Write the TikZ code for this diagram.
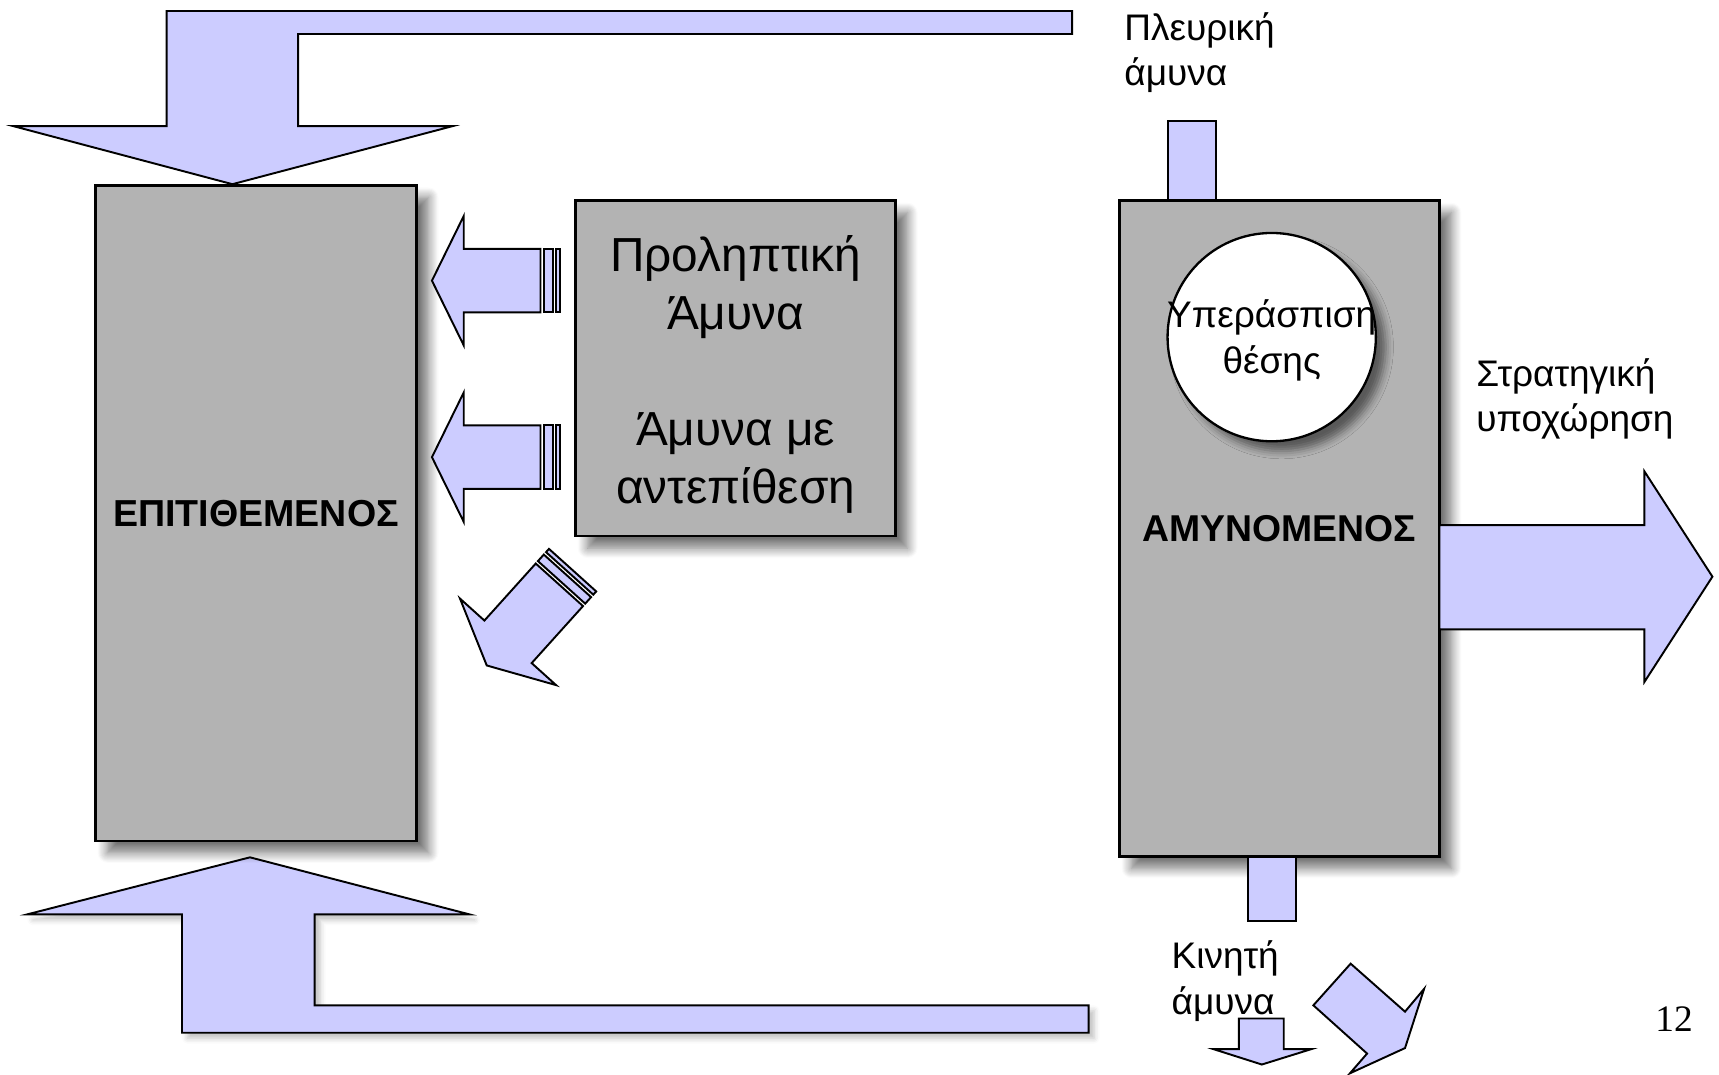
\documentclass[tikz,border=0pt]{standalone}
\usepackage{fontspec}
\setmainfont{Liberation Sans}
\newfontfamily\numfont{Liberation Serif}
\usepackage{tikz}
\usetikzlibrary{calc,shadows.blur}

\definecolor{arrowblue}{HTML}{CCCCFF}
\definecolor{boxgrey}{HTML}{B3B3B3}

\begin{document}
\begin{tikzpicture}[x=0.1mm, y=-0.1mm,
    blockarrow/.style={draw, fill=arrowblue, line width=0.5pt, line join=miter},
    sideshadow/.style={blur shadow={shadow xshift=1.1mm, shadow yshift=-1.1mm, shadow blur radius=0.9mm, shadow blur steps=10, shadow opacity=55}},
    sidebox/.style={draw, fill=boxgrey, line width=0.7pt, sideshadow, inner sep=0pt},
    lbltext/.style={font=\fontsize{9.6}{11.8}\selectfont, align=left, inner sep=0pt}]
    \useasboundingbox (0,0) rectangle (1568,980);

    % arrows round the attacker
    \path[blockarrow] (978,10) -- (152,10) -- (152,115) -- (12,115) -- (212,168) -- (413,115) -- (272,115) -- (272,31) -- (978,31) -- cycle;
    \path[blockarrow, blur shadow={shadow xshift=0.5mm, shadow yshift=-0.5mm, shadow blur radius=0.5mm, shadow opacity=25}] (228,782) -- (428,834) -- (287,834) -- (287,917) -- (993,917) -- (993,942) -- (166,942) -- (166,834) -- (25,834) -- cycle;
    \path[blockarrow] (1065,110) rectangle (1109,184);

    \node[sidebox, minimum width=29.3mm, minimum height=59.8mm, font=\bfseries\fontsize{9.75}{11}\selectfont] (epit) at (233.5,468) {ΕΠΙΤΙΘΕΜΕΝΟΣ};
    \node[sidebox, minimum width=29.2mm, minimum height=30.6mm] (prol) at (671,336) {};
    \node[align=center, inner sep=0pt, font=\fontsize{12.4}{15}\selectfont] (prollbl) at ([yshift=-0.55mm]prol.center) {Προληπτική\\Άμυνα\\[15pt]Άμυνα με\\αντεπίθεση};
    \node[sidebox, minimum width=29.2mm, minimum height=59.8mm, font=\bfseries\fontsize{9.7}{11}\selectfont] (amyn) at (1167,482) {ΑΜΥΝΟΜΕΝΟΣ};

    % striped arrows out of the middle box
    \foreach \tx/\ty/\rot in {394/256/0, 394/417/0, 444/607/48}{
        \begin{scope}[shift={(\tx,\ty)}, rotate=\rot]
            \path[blockarrow] (0,0) -- (29,-59) -- (29,-29) -- (99,-29) -- (99,29) -- (29,29) -- (29,59) -- cycle;
            \path[blockarrow] (102,-29) rectangle (110,29);
            \path[blockarrow] (113,-29) rectangle (117,29);
        \end{scope}
    }

    % defender
    \node[circle, draw, fill=white, line width=0.6pt, minimum size=19mm, inner sep=0pt, blur shadow={shadow xshift=0.9mm, shadow yshift=-0.9mm, shadow blur radius=0.7mm, shadow opacity=50}] (yper) at (1160,307.5) {};
    \node[lbltext, align=center] (yperlbl) at ([yshift=-0.3mm]yper.center) {Υπεράσπιση\\θέσης};
    \path[blockarrow] (1313,479) -- (1500,479) -- (1500,430) -- (1562,526) -- (1500,622) -- (1500,574) -- (1313,574) -- cycle;
    \path[blockarrow] (1138,782) rectangle (1182,840);
    \path[blockarrow] (1130,929) -- (1171,929) -- (1171,957) -- (1196,957) -- (1151,971) -- (1107,957) -- (1130,957) -- cycle;
    \path[blockarrow] (1198,917) -- (1232,879) -- (1281.6,922.8) -- (1299,902) -- (1281.6,956) -- (1231.4,979) -- (1247,961) -- cycle;

    \node[lbltext, anchor=west] (pleur) at (1025,48) {Πλευρική\\άμυνα};
    \node[lbltext, anchor=west] (strat) at (1346,364) {Στρατηγική\\υποχώρηση};
    \node[lbltext, anchor=west] (kinit) at (1068,895) {Κινητή\\άμυνα};
    \node[font=\numfont\fontsize{9.7}{11}\selectfont] (pnum) at (1527,930) {12};
\end{tikzpicture}
\end{document}
